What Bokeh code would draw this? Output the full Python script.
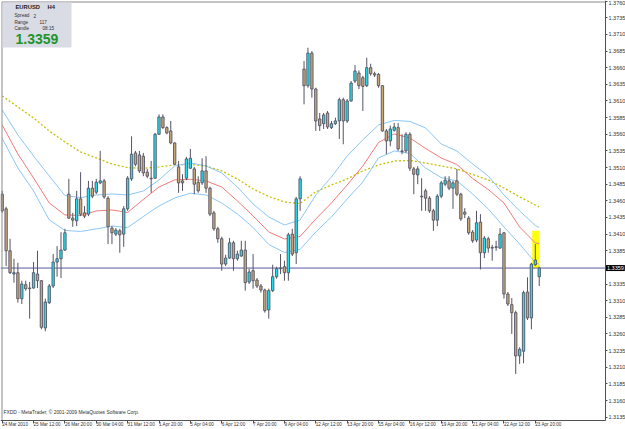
from bokeh.plotting import figure
from bokeh.models import (Range1d, FixedTicker, PrintfTickFormatter, Label, LinearAxis,
                          ColumnDataSource)
from bokeh.embed import file_html
from bokeh.resources import INLINE

# ---------------- data (EURUSD H4, FXDD) ----------------
symbol = "EURUSD"
timeframe = "H4"
spread_txt = "2"
range_txt = "117"
candle_txt = "08:15"
bid = 1.3359

opens = [1.3470, 1.3448, 1.3385, 1.3350, 1.3352, 1.3313, 1.3334, 1.3329, 1.3329, 1.3350,
         1.3340, 1.3269, 1.3307, 1.3332, 1.3368, 1.3373, 1.3386, 1.3470, 1.3434, 1.3430,
         1.3463, 1.3442, 1.3440, 1.3479, 1.3473, 1.3487, 1.3490, 1.3464, 1.3419, 1.3410,
         1.3415, 1.3410, 1.3448, 1.3493, 1.3532, 1.3529, 1.3527, 1.3503, 1.3494, 1.3494,
         1.3560, 1.3586, 1.3570, 1.3565, 1.3547, 1.3511, 1.3490, 1.3494, 1.3509, 1.3508,
         1.3488, 1.3487, 1.3505, 1.3479, 1.3442, 1.3418, 1.3403, 1.3365, 1.3374, 1.3397,
         1.3373, 1.3377, 1.3386, 1.3338, 1.3355, 1.3341, 1.3332, 1.3326, 1.3296, 1.3325,
         1.3346, 1.3358, 1.3361, 1.3352, 1.3410, 1.3382, 1.3463, 1.3658, 1.3633, 1.3682,
         1.3628, 1.3583, 1.3576, 1.3592, 1.3570, 1.3576, 1.3580, 1.3612, 1.3580, 1.3610,
         1.3640, 1.3652, 1.3645, 1.3633, 1.3660, 1.3651, 1.3650, 1.3633, 1.3565, 1.3550,
         1.3566, 1.3570, 1.3535, 1.3535, 1.3560, 1.3508, 1.3499, 1.3467, 1.3475, 1.3464,
         1.3445, 1.3431, 1.3467, 1.3485, 1.3490, 1.3479, 1.3490, 1.3470, 1.3443, 1.3434,
         1.3413, 1.3401, 1.3428, 1.3382, 1.3403, 1.3390, 1.3390, 1.3389, 1.3412, 1.3320,
         1.3304, 1.3292, 1.3227, 1.3234, 1.3323, 1.3284, 1.3364, 1.3346]
highs = [1.3475, 1.3451, 1.3403, 1.3373, 1.3367, 1.3340, 1.3340, 1.3338, 1.3368, 1.3385,
         1.3341, 1.3313, 1.3335, 1.3380, 1.3392, 1.3413, 1.3418, 1.3493, 1.3442, 1.3475,
         1.3503, 1.3452, 1.3490, 1.3490, 1.3493, 1.3535, 1.3493, 1.3467, 1.3422, 1.3419,
         1.3418, 1.3452, 1.3497, 1.3557, 1.3535, 1.3535, 1.3532, 1.3508, 1.3520, 1.3562,
         1.3590, 1.3590, 1.3572, 1.3580, 1.3548, 1.3520, 1.3500, 1.3526, 1.3538, 1.3511,
         1.3497, 1.3524, 1.3527, 1.3481, 1.3445, 1.3421, 1.3406, 1.3379, 1.3404, 1.3400,
         1.3385, 1.3400, 1.3400, 1.3358, 1.3380, 1.3344, 1.3335, 1.3328, 1.3328, 1.3364,
         1.3361, 1.3380, 1.3370, 1.3412, 1.3418, 1.3466, 1.3497, 1.3670, 1.3690, 1.3685,
         1.3630, 1.3592, 1.3592, 1.3595, 1.3580, 1.3585, 1.3615, 1.3615, 1.3613, 1.3640,
         1.3664, 1.3656, 1.3648, 1.3675, 1.3666, 1.3654, 1.3652, 1.3634, 1.3568, 1.3573,
         1.3577, 1.3577, 1.3560, 1.3563, 1.3563, 1.3511, 1.3512, 1.3494, 1.3478, 1.3467,
         1.3448, 1.3470, 1.3490, 1.3497, 1.3497, 1.3490, 1.3508, 1.3472, 1.3449, 1.3437,
         1.3416, 1.3445, 1.3440, 1.3407, 1.3406, 1.3394, 1.3400, 1.3419, 1.3413, 1.3323,
         1.3314, 1.3295, 1.3240, 1.3325, 1.3345, 1.3367, 1.3395, 1.3361]
lows = [1.3442, 1.3362, 1.3350, 1.3337, 1.3307, 1.3305, 1.3325, 1.3283, 1.3328, 1.3329,
        1.3267, 1.3264, 1.3305, 1.3329, 1.3346, 1.3344, 1.3385, 1.3433, 1.3421, 1.3422,
        1.3437, 1.3434, 1.3437, 1.3464, 1.3470, 1.3485, 1.3463, 1.3395, 1.3395, 1.3407,
        1.3382, 1.3391, 1.3445, 1.3490, 1.3512, 1.3502, 1.3497, 1.3494, 1.3472, 1.3493,
        1.3559, 1.3568, 1.3560, 1.3545, 1.3514, 1.3472, 1.3475, 1.3491, 1.3508, 1.3470,
        1.3472, 1.3484, 1.3472, 1.3437, 1.3415, 1.3397, 1.3355, 1.3362, 1.3373, 1.3355,
        1.3370, 1.3376, 1.3325, 1.3335, 1.3328, 1.3329, 1.3322, 1.3292, 1.3283, 1.3323,
        1.3343, 1.3350, 1.3340, 1.3340, 1.3377, 1.3365, 1.3445, 1.3605, 1.3630, 1.3615,
        1.3565, 1.3565, 1.3568, 1.3568, 1.3568, 1.3574, 1.3553, 1.3545, 1.3577, 1.3609,
        1.3637, 1.3628, 1.3595, 1.3631, 1.3648, 1.3646, 1.3630, 1.3564, 1.3530, 1.3542,
        1.3564, 1.3535, 1.3530, 1.3532, 1.3505, 1.3470, 1.3485, 1.3445, 1.3445, 1.3442,
        1.3415, 1.3422, 1.3464, 1.3482, 1.3476, 1.3448, 1.3467, 1.3430, 1.3434, 1.3409,
        1.3397, 1.3398, 1.3357, 1.3374, 1.3382, 1.3370, 1.3385, 1.3388, 1.3313, 1.3302,
        1.3260, 1.3200, 1.3215, 1.3216, 1.3281, 1.3267, 1.3362, 1.3332]
closes = [1.3445, 1.3385, 1.3352, 1.3352, 1.3313, 1.3335, 1.3328, 1.3328, 1.3352, 1.3340,
          1.3270, 1.3308, 1.3332, 1.3368, 1.3373, 1.3386, 1.3412, 1.3434, 1.3431, 1.3463,
          1.3440, 1.3437, 1.3479, 1.3467, 1.3488, 1.3490, 1.3466, 1.3421, 1.3412, 1.3416,
          1.3409, 1.3448, 1.3494, 1.3530, 1.3515, 1.3505, 1.3502, 1.3497, 1.3493, 1.3560,
          1.3586, 1.3570, 1.3562, 1.3547, 1.3515, 1.3487, 1.3487, 1.3523, 1.3524, 1.3485,
          1.3475, 1.3505, 1.3479, 1.3440, 1.3418, 1.3403, 1.3365, 1.3374, 1.3397, 1.3373,
          1.3380, 1.3386, 1.3337, 1.3353, 1.3340, 1.3332, 1.3326, 1.3295, 1.3325, 1.3346,
          1.3358, 1.3359, 1.3352, 1.3409, 1.3380, 1.3463, 1.3493, 1.3633, 1.3682, 1.3628,
          1.3580, 1.3573, 1.3589, 1.3571, 1.3576, 1.3580, 1.3612, 1.3580, 1.3610, 1.3637,
          1.3655, 1.3633, 1.3632, 1.3660, 1.3651, 1.3649, 1.3633, 1.3565, 1.3550, 1.3568,
          1.3571, 1.3538, 1.3534, 1.3560, 1.3509, 1.3500, 1.3508, 1.3466, 1.3464, 1.3445,
          1.3431, 1.3467, 1.3487, 1.3491, 1.3479, 1.3487, 1.3470, 1.3433, 1.3440, 1.3412,
          1.3400, 1.3427, 1.3382, 1.3404, 1.3389, 1.3389, 1.3391, 1.3410, 1.3320, 1.3305,
          1.3292, 1.3227, 1.3237, 1.3322, 1.3284, 1.3365, 1.3371, 1.3359]

# moving-average style lines, read every 4th bar (plus the last bar)
ma_bars = [0, 4, 8, 12, 16, 20, 24, 28, 32, 36, 40, 44, 48, 52, 56, 60, 64, 68, 72, 76,
           80, 84, 88, 92, 96, 100, 104, 108, 112, 116, 120, 124, 128, 132, 136, 137]
ma_slow = [1.36176, 1.36010, 1.35845, 1.35650, 1.35485, 1.35334, 1.35244, 1.35154, 1.35098, 1.35089,
           1.35109, 1.35139, 1.35146, 1.35124, 1.35049, 1.34929, 1.34778, 1.34666, 1.34583, 1.34560,
           1.34735, 1.34838, 1.34929, 1.35049, 1.35139, 1.35199, 1.35207, 1.35169, 1.35124, 1.35079,
           1.34996, 1.34914, 1.34793, 1.34658, 1.34538, 1.34508]
ma_mid = [1.35740, 1.35304, 1.34944, 1.34568, 1.34388, 1.34380, 1.34448, 1.34463, 1.34425, 1.34621,
          1.34808, 1.34914, 1.34924, 1.34899, 1.34808, 1.34598, 1.34373, 1.34132, 1.34027, 1.34065,
          1.34328, 1.34568, 1.34838, 1.35124, 1.35477, 1.35605, 1.35545, 1.35387, 1.35244, 1.35146,
          1.34936, 1.34771, 1.34568, 1.34207, 1.33967, 1.33956]
band_up = [1.35965, 1.35590, 1.35274, 1.34974, 1.34680, 1.34648, 1.34688, 1.34703, 1.34688, 1.34748,
           1.34914, 1.35124, 1.35169, 1.35124, 1.35019, 1.34808, 1.34553, 1.34358, 1.34237, 1.34313,
           1.34688, 1.34959, 1.35274, 1.35515, 1.35740, 1.35808, 1.35793, 1.35695, 1.35454, 1.35349,
           1.35154, 1.34974, 1.34688, 1.34448, 1.34230, 1.34197]
band_dn = [1.35537, 1.35094, 1.34748, 1.34313, 1.34155, 1.34140, 1.34177, 1.34222, 1.34197, 1.34364,
           1.34523, 1.34643, 1.34714, 1.34688, 1.34568, 1.34403, 1.34200, 1.33944, 1.33824, 1.33870,
           1.34132, 1.34358, 1.34628, 1.34884, 1.35244, 1.35349, 1.35312, 1.35094, 1.34948, 1.34899,
           1.34703, 1.34478, 1.34207, 1.33952, 1.33671, 1.33647]

# highlighted rectangle object
hl_left, hl_right = 135.2, 137.1
hl_top, hl_bottom = 1.3415, 1.3359

# time axis labels (every 8 bars)
xtick_bars = [0, 8, 16, 24, 32, 40, 48, 56, 64, 72, 80, 88, 96, 104, 112, 120, 128, 136]
xtick_labels = ["24 Mar 2010", "25 Mar 12:00", "26 Mar 20:00", "30 Mar 04:00", "31 Mar 12:00",
                "1 Apr 20:00", "5 Apr 04:00", "6 Apr 12:00", "7 Apr 20:00", "9 Apr 04:00",
                "12 Apr 12:00", "13 Apr 20:00", "15 Apr 04:00", "16 Apr 12:00", "19 Apr 20:00",
                "21 Apr 04:00", "22 Apr 12:00", "23 Apr 20:00"]
ytick_vals = [1.3760, 1.3735, 1.3710, 1.3685, 1.3660, 1.3635, 1.3610, 1.3585, 1.3560, 1.3535,
              1.3510, 1.3485, 1.3460, 1.3435, 1.3410, 1.3385, 1.3360, 1.3335, 1.3310, 1.3285,
              1.3260, 1.3235, 1.3210, 1.3185, 1.3160, 1.3135]

# ---------------- geometry / styles ----------------
W, H = 625, 429
PX_PER_BAR = 3.92
PRICE_PER_PX = 0.00015025
x_start = -1.7 / PX_PER_BAR
x_end = x_start + W / PX_PER_BAR
y_end = 1.37610
y_start = y_end - H * PRICE_PER_PX

def X(px):  # canvas px -> data x (used only to place frame furniture)
    return x_start + px / PX_PER_BAR

def Y(py):  # canvas px -> data y (used only to place frame furniture)
    return y_end - py * PRICE_PER_PX

scale_x = X(605)      # where the price scale sits
time_y = Y(420)       # where the time scale sits

BULL = "#1fe0f0"
BEAR = "#c9a978"
EDGE = "#545464"
FONT = "Liberation Sans"
BORDER = "#8a8a8a"

p = figure(width=W, height=H, x_range=Range1d(x_start, x_end), y_range=Range1d(y_start, y_end),
           toolbar_location=None, output_backend="svg",
           x_axis_location=None, y_axis_location=None,
           min_border_left=0, min_border_top=0, min_border_right=0, min_border_bottom=0)
p.background_fill_color = "white"
p.border_fill_color = "white"
p.outline_line_color = None
p.grid.visible = False

# highlight rectangle (background object)
p.quad(left=[hl_left], right=[hl_right], top=[hl_top], bottom=[hl_bottom],
       fill_color="#ffff10", line_color=None)

# indicator lines
p.line(ma_bars, ma_slow, line_color="#c6c000", line_width=1.3, line_dash="2 2")
p.line(ma_bars, band_up, line_color="#8cc6f6", line_width=1)
p.line(ma_bars, band_dn, line_color="#8cc6f6", line_width=1)
p.line(ma_bars, ma_mid, line_color="#f27a7a", line_width=1)

# bid line
p.segment(x0=[X(0)], y0=[bid], x1=[scale_x], y1=[bid], line_color="#5a5aa4", line_width=1)

# candles
n = len(opens)
bars = list(range(n))
src = ColumnDataSource(dict(
    x=bars,
    hi=highs, lo=lows,
    top=[max(o, c) for o, c in zip(opens, closes)],
    bot=[min(o, c) for o, c in zip(opens, closes)],
    col=[BULL if c > o else BEAR for o, c in zip(opens, closes)],
))
p.segment(x0="x", y0="lo", x1="x", y1="hi", source=src, line_color=EDGE, line_width=1)
p.vbar(x="x", width=0.6, top="top", bottom="bot", source=src,
       fill_color="col", line_color=EDGE, line_width=0.9)

# chart window border (left and top)
p.segment(x0=[X(1.5), X(1.5)], y0=[Y(1.5), Y(1.5)], x1=[X(1.5), scale_x], y1=[time_y, Y(1.5)],
          line_color=BORDER, line_width=1)

# price scale (right)
ya = LinearAxis(fixed_location=scale_x, bounds=(time_y, y_end),
                ticker=FixedTicker(ticks=ytick_vals), formatter=PrintfTickFormatter(format="%.4f"))
ya.major_label_text_font = FONT
ya.major_label_text_font_size = "5.5px"
ya.major_label_text_color = "#333333"
ya.major_tick_in = 0
ya.major_tick_out = 2
ya.major_label_standoff = 1
ya.minor_tick_line_color = None
ya.axis_line_color = "#505050"
ya.major_tick_line_color = "#505050"
p.add_layout(ya, "right")

# time scale (bottom)
xa = LinearAxis(fixed_location=time_y, bounds=(X(0), scale_x),
                ticker=FixedTicker(ticks=xtick_bars))
xa.major_label_overrides = {b: t for b, t in zip(xtick_bars, xtick_labels)}
xa.major_label_orientation = -0.0001
xa.major_label_text_font = FONT
xa.major_label_text_font_size = "4.6px"
xa.major_label_text_color = "#333333"
xa.major_tick_in = 0
xa.major_tick_out = 3
xa.major_label_standoff = 1
xa.minor_tick_line_color = None
xa.axis_line_color = "#505050"
xa.major_tick_line_color = "#505050"
p.add_layout(xa, "below")

# bid price label on the scale
p.add_layout(Label(x=X(605.5), y=bid, text=f"{bid:.4f}", text_font=FONT, text_font_size="5.5px",
                   text_color="white", text_baseline="middle", text_align="left",
                   background_fill_color="black", padding=1, level="overlay"))

# info panel
p.quad(left=[X(2)], right=[X(71)], top=[Y(2)], bottom=[Y(47)], fill_color="#d9dbe5", line_color=None)
p.add_layout(Label(x=X(15), y=Y(6.5), text=symbol, text_font=FONT, text_font_size="5.8px",
                   text_font_style="bold", text_color="#1c1c1c", text_baseline="middle"))
p.add_layout(Label(x=X(47), y=Y(6.5), text=timeframe, text_font=FONT, text_font_size="5.8px",
                   text_font_style="bold", text_color="#1c1c1c", text_baseline="middle"))
for label_txt, val_txt, py, vx in [("Spread", spread_txt, 15, 33), ("Range", range_txt, 21.5, 39),
                                   ("Candle", candle_txt, 28, 42)]:
    p.add_layout(Label(x=X(14), y=Y(py), text=label_txt, text_font=FONT, text_font_size="4.6px",
                       text_color="#303030", text_baseline="middle"))
    p.add_layout(Label(x=X(vx), y=Y(py), text=val_txt, text_font=FONT, text_font_size="4.6px",
                       text_color="#303030", text_baseline="middle"))
p.add_layout(Label(x=X(15), y=Y(38.5), text=f"{bid:.4f}", text_font=FONT, text_font_size="14px",
                   text_font_style="bold", text_color="#21942a", text_baseline="middle"))

# copyright
p.add_layout(Label(x=X(3), y=Y(412), text="FXDD - MetaTrader, \u00a9 2001-2009 MetaQuotes Software Corp.",
                   text_font=FONT, text_font_size="4.9px", text_color="#303030", text_baseline="middle"))

open("out.html", "w").write(file_html(p, INLINE))
